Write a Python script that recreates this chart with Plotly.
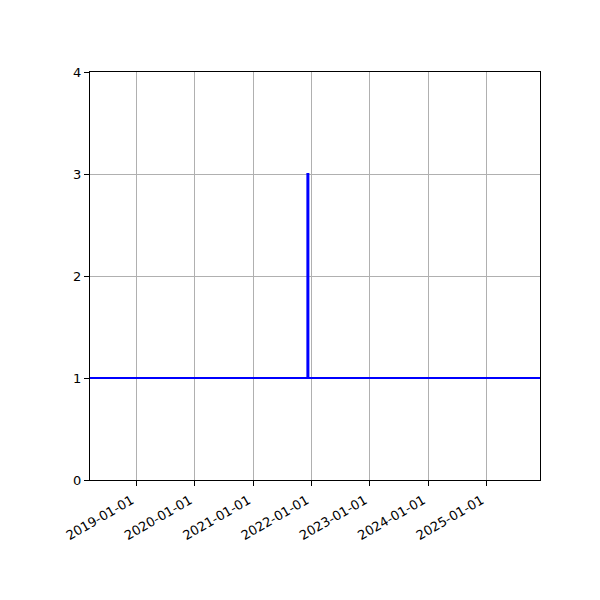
import plotly.graph_objects as go

dates = ["2018-03-15", "2021-12-06", "2021-12-06", "2021-12-11", "2021-12-11", "2025-12-01"]
values = [1, 1, 3, 3, 1, 1]
tick_dates = ["2019-01-01", "2020-01-01", "2021-01-01", "2022-01-01",
              "2023-01-01", "2024-01-01", "2025-01-01"]
x_range = ["2018-03-15", "2025-12-01"]
y_ticks = [0, 1, 2, 3, 4]

fig = go.Figure()
fig.add_trace(go.Scatter(x=dates, y=values, mode="lines",
                         line=dict(color="blue", width=2.2), showlegend=False))

axis_common = dict(showline=True, linecolor="black", linewidth=1, mirror=True,
                   ticks="outside", ticklen=5, tickwidth=1, tickcolor="black",
                   showgrid=True, gridcolor="#b0b0b0", gridwidth=1, zeroline=False,
                   automargin=False,
                   tickfont=dict(family="DejaVu Sans", size=13, color="black"))

fig.update_xaxes(type="date", range=x_range, tickvals=tick_dates, ticktext=tick_dates,
                 tickangle=-30, ticklabelshift=-5, ticklabelstandoff=2, **axis_common)
fig.update_yaxes(range=[0, 4], tickvals=y_ticks, ticktext=[str(v) for v in y_ticks],
                 **axis_common)

fig.update_layout(width=600, height=600, margin=dict(l=82, r=68, t=64, b=128, autoexpand=False),
                  plot_bgcolor="white", paper_bgcolor="white",
                  font=dict(family="DejaVu Sans", size=13, color="black"))

fig.write_html("out.html")
